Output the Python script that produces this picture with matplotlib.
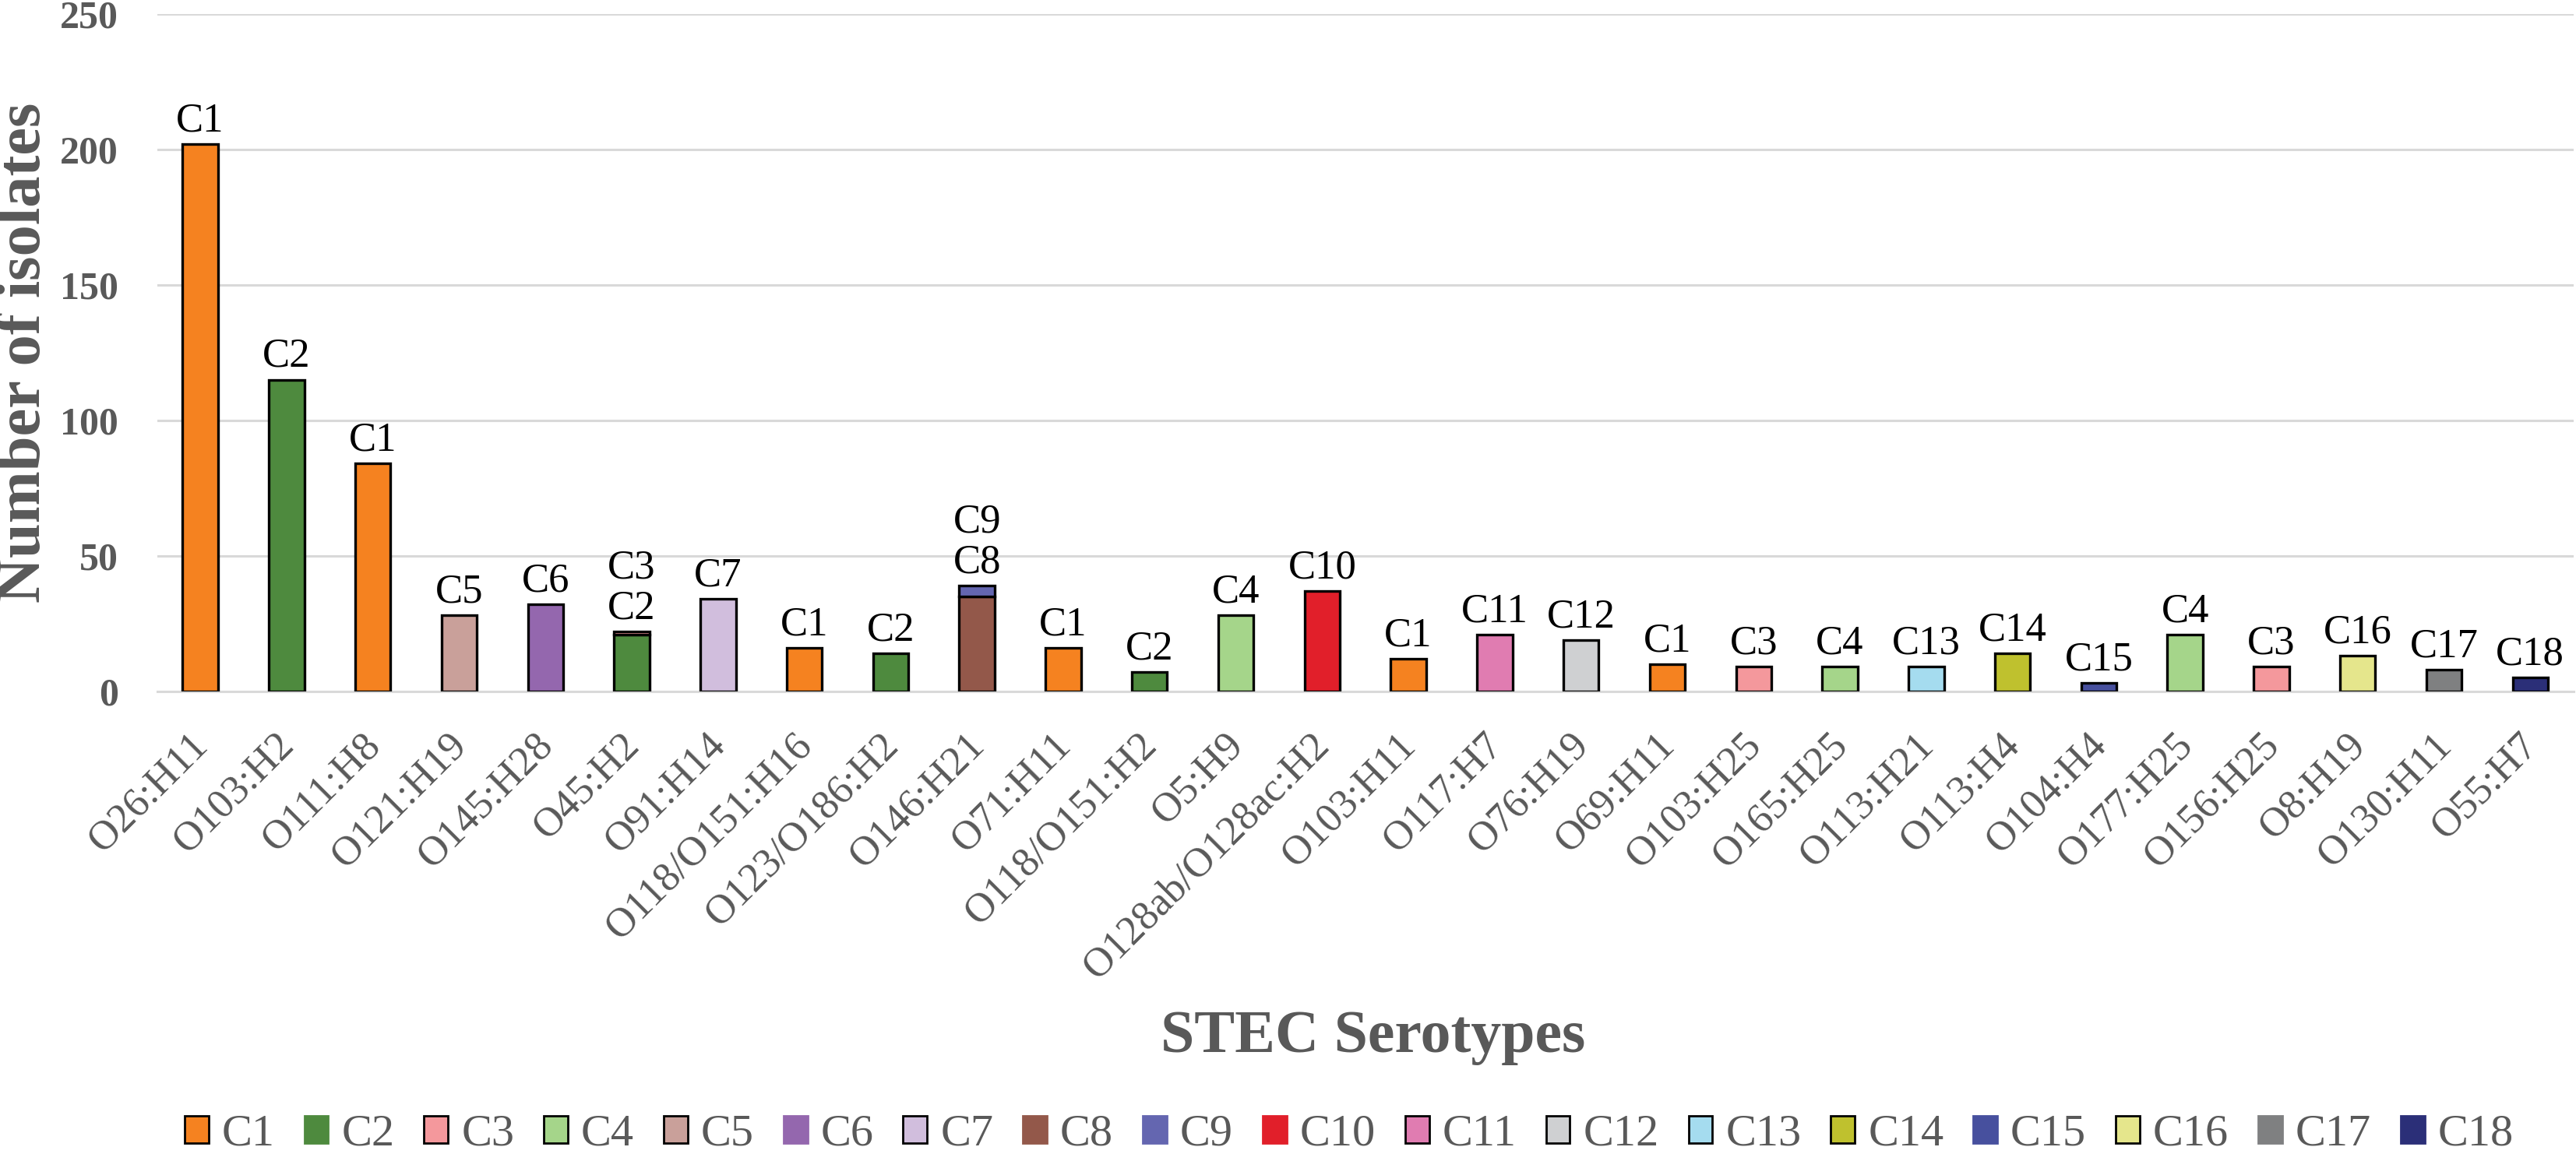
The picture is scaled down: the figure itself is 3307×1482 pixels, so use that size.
import matplotlib
matplotlib.use("Agg")
import matplotlib.pyplot as plt
from matplotlib.patches import Patch
from matplotlib.transforms import ScaledTranslation
import numpy as np

# ---------------- data ----------------
serotypes = ["O26:H11", "O103:H2", "O111:H8", "O121:H19", "O145:H28", "O45:H2",
             "O91:H14", "O118/O151:H16", "O123/O186:H2", "O146:H21", "O71:H11",
             "O118/O151:H2", "O5:H9", "O128ab/O128ac:H2", "O103:H11", "O117:H7",
             "O76:H19", "O69:H11", "O103:H25", "O165:H25", "O113:H21", "O113:H4",
             "O104:H4", "O177:H25", "O156:H25", "O8:H19", "O130:H11", "O55:H7"]
base_cluster = ["C1", "C2", "C1", "C5", "C6", "C2", "C7", "C1", "C2", "C8", "C1",
                "C2", "C4", "C10", "C1", "C11", "C12", "C1", "C3", "C4", "C13",
                "C14", "C15", "C4", "C3", "C16", "C17", "C18"]
base_count = [202, 115, 84, 28, 32, 21, 34, 16, 14, 35, 16,
              7, 28, 37, 12, 21, 19, 10, 9, 9, 9,
              14, 3, 21, 9, 13, 8, 5]
top_cluster = [None, None, None, None, None, "C3", None, None, None, "C9", None,
               None, None, None, None, None, None, None, None, None, None,
               None, None, None, None, None, None, None]
top_count = [0, 0, 0, 0, 0, 1, 0, 0, 0, 4, 0,
             0, 0, 0, 0, 0, 0, 0, 0, 0, 0,
             0, 0, 0, 0, 0, 0, 0]

clusters = ["C1", "C2", "C3", "C4", "C5", "C6", "C7", "C8", "C9", "C10",
            "C11", "C12", "C13", "C14", "C15", "C16", "C17", "C18"]
cluster_colors = ["#F58220", "#4E8A3E", "#F4989C", "#A5D58A", "#C9A09A", "#9467AE",
                  "#D1BEDD", "#93584A", "#6466B0", "#E11F2A", "#E07CB1", "#CFD0D2",
                  "#A5DCEF", "#BFC12E", "#47509E", "#E5E68C", "#7F8081", "#2B2F78"]
legend_edge = ["black", None, "black", "black", "black", None, "black", None, None,
               None, "black", "black", "black", "black", None, "black", None, None]
yticks = [0, 50, 100, 150, 200, 250]

# ---------------- style ----------------
plt.rcParams['font.family'] = ['Liberation Serif', 'DejaVu Serif']
GRAY = "#595959"
cmap = dict(zip(clusters, cluster_colors))

fig = plt.figure(figsize=(3307 / 200, 1482 / 200), dpi=200)
ax = fig.add_axes([0.061, 0.401, 0.938, 0.587])

x = np.arange(len(serotypes))
width = 0.41

ax.bar(x, base_count, width, color=[cmap[c] for c in base_cluster],
       edgecolor="black", linewidth=1.2, zorder=3)
tmask = np.array([c is not None for c in top_cluster])
ax.bar(x[tmask], np.array(top_count)[tmask], width,
       bottom=np.array(base_count)[tmask],
       color=[cmap[c] for c in np.array(top_cluster, dtype=object)[tmask]],
       edgecolor="black", linewidth=1.2, zorder=3)

for i in range(len(serotypes)):
    total = base_count[i] + top_count[i]
    lab = base_cluster[i] if top_cluster[i] is None else top_cluster[i] + "\n" + base_cluster[i]
    ax.annotate(lab, (x[i], total), xytext=(0, 2), textcoords="offset points",
                ha="center", va="bottom", fontsize=19, color="black",
                linespacing=1.1, zorder=4)

ax.set_xlim(-0.5, len(serotypes) - 0.5)
ax.set_ylim(0, 250)
ax.set_yticks(yticks)
ax.set_yticklabels([str(v) for v in yticks], fontsize=18, fontweight="bold", color=GRAY)
ax.set_xticks(x)
ax.set_xticklabels([])
# rotated category labels, slightly right of the tick as in the reference
lab_tr = ax.get_xaxis_transform() + ScaledTranslation(7 / 72, -16 / 72, fig.dpi_scale_trans)
for xi, s in zip(x, serotypes):
    ax.text(xi, 0, s, transform=lab_tr, rotation=45, ha="right", va="top",
            fontsize=19, color=GRAY, clip_on=False)
ax.tick_params(axis="both", length=0)
ax.tick_params(axis="y", pad=18)
ax.grid(axis="y", color="#D9D9D9", linewidth=1.1, zorder=0)
for s in ["top", "right", "left"]:
    ax.spines[s].set_visible(False)
ax.spines["bottom"].set_color("#D9D9D9")
ax.spines["bottom"].set_linewidth(1.1)

fig.text(0.0095, 0.401 + 0.587 / 2, "Number of isolates", rotation=90, ha="center",
         va="center", fontsize=29, fontweight="bold", color=GRAY)
fig.text(0.533, 1 - 1333 / 1482, "STEC Serotypes", ha="center", va="center",
         fontsize=28, fontweight="bold", color=GRAY)

handles = [Patch(facecolor=c, edgecolor=(e if e else c), linewidth=1.0)
           for c, e in zip(cluster_colors, legend_edge)]
fig.legend(handles, clusters, loc="center", bbox_to_anchor=(0.5237, 0.017), ncol=18,
           frameon=False, fontsize=21, labelcolor=GRAY, handlelength=0.53,
           handleheight=0.55, handletextpad=0.29, columnspacing=0.65)

fig.savefig("out.png", dpi=200)
